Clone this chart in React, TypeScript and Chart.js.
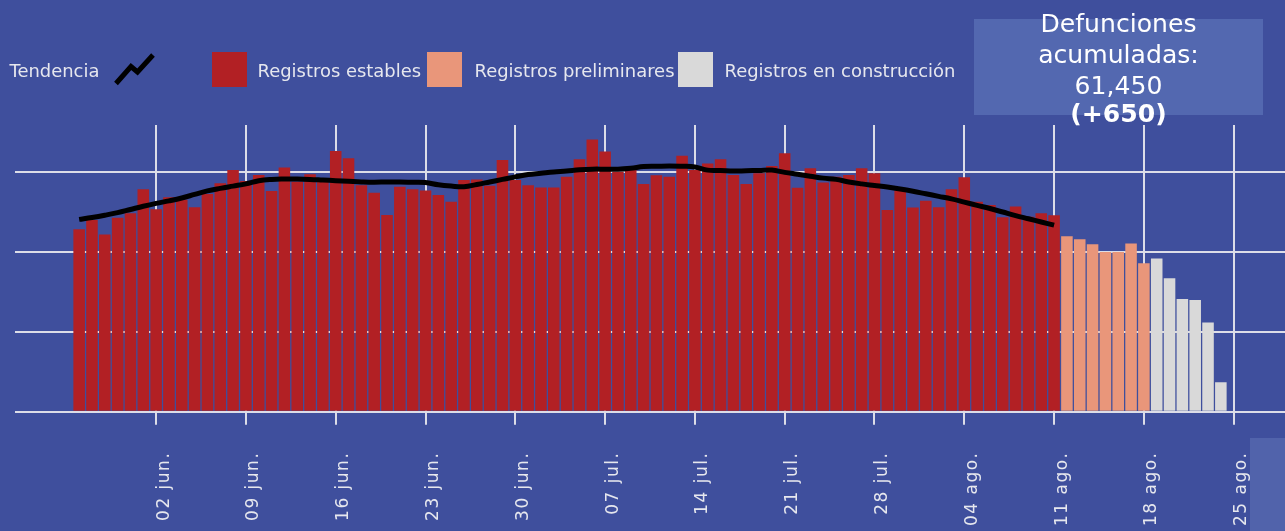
import React, { useEffect, useRef } from 'react';
import { Chart, registerables } from 'chart.js';

Chart.register(...registerables);

// ---------- data ----------
const CATEGORIES = [
  '22 may.', '23 may.', '24 may.', '25 may.', '26 may.', '27 may.', '28 may.', '29 may.', '30 may.', '31 may.',
  '01 jun.', '02 jun.', '03 jun.', '04 jun.', '05 jun.', '06 jun.', '07 jun.', '08 jun.', '09 jun.', '10 jun.',
  '11 jun.', '12 jun.', '13 jun.', '14 jun.', '15 jun.', '16 jun.', '17 jun.', '18 jun.', '19 jun.', '20 jun.',
  '21 jun.', '22 jun.', '23 jun.', '24 jun.', '25 jun.', '26 jun.', '27 jun.', '28 jun.', '29 jun.', '30 jun.',
  '01 jul.', '02 jul.', '03 jul.', '04 jul.', '05 jul.', '06 jul.', '07 jul.', '08 jul.', '09 jul.', '10 jul.',
  '11 jul.', '12 jul.', '13 jul.', '14 jul.', '15 jul.', '16 jul.', '17 jul.', '18 jul.', '19 jul.', '20 jul.',
  '21 jul.', '22 jul.', '23 jul.', '24 jul.', '25 jul.', '26 jul.', '27 jul.', '28 jul.', '29 jul.', '30 jul.',
  '31 jul.', '01 ago.', '02 ago.', '03 ago.', '04 ago.', '05 ago.', '06 ago.', '07 ago.', '08 ago.', '09 ago.',
  '10 ago.', '11 ago.', '12 ago.', '13 ago.', '14 ago.', '15 ago.', '16 ago.', '17 ago.', '18 ago.', '19 ago.',
  '20 ago.', '21 ago.', '22 ago.', '23 ago.', '24 ago.', '25 ago.', '26 ago.', '27 ago.', '28 ago.', '29 ago.',
];

const TICK_LABELS = [
  '02 jun.', '09 jun.', '16 jun.', '23 jun.', '30 jun.', '07 jul.', '14 jul.',
  '21 jul.', '28 jul.', '04 ago.', '11 ago.', '18 ago.', '25 ago.',
];

const STABLE_START = '27 may.';
const STABLE = [
  570, 599, 554, 606, 620, 695, 633, 670, 662, 639,
  680, 714, 755, 721, 740, 690, 763, 719, 742, 719,
  815, 792, 708, 684, 615, 703, 695, 691, 677, 656,
  724, 726, 706, 787, 724, 708, 701, 701, 734, 789,
  851, 813, 750, 755, 712, 739, 734, 800, 755, 776,
  789, 740, 712, 745, 768, 808, 700, 761, 716, 734,
  740, 761, 745, 630, 691, 638, 659, 639, 695, 733,
  656, 646, 608, 641, 609, 620, 614,
];

const PRELIM_START = '12 ago.';
const PRELIM = [548, 539, 523, 499, 499, 526, 464];

const BUILDING_START = '19 ago.';
const BUILDING = [479, 417, 352, 349, 279, 92];

const TREND_START = '27 may.';
const TREND = [
  601, 607, 614, 622, 632, 642, 651, 659, 668, 679,
  690, 698, 705, 712, 722, 726, 727, 727, 726, 724,
  722, 720, 718, 717, 718, 718, 717, 716, 709, 705,
  703, 710, 718, 726, 734, 741, 745, 749, 752, 756,
  758, 758, 758, 761, 766, 767, 768, 767, 765, 755,
  754, 752, 753, 754, 755, 748, 742, 736, 730, 726,
  718, 712, 707, 702, 696, 689, 681, 673, 665, 655,
  645, 635, 624, 613, 603, 593, 583,
];

const GRID_VALUES = [0, 250, 500, 750];
const Y_MAX = 896;

const TOTAL_LABEL = ['Defunciones', 'acumuladas:', '61,450'];
const TOTAL_DELTA = '(+650)';

const LEGEND_TREND = 'Tendencia';
const LEGEND_STABLE = 'Registros estables';
const LEGEND_PRELIM = 'Registros preliminares';
const LEGEND_BUILDING = 'Registros en construcción';

// ---------- styles ----------
const W = 1285;
const H = 531;
const BG = '#3f4f9d';
const RED = '#b22024';
const SALMON = '#e9967a';
const GREY = '#d9d9d9';
const GRID = '#dcdde8';
const TEXT = '#e6e7ee';
const FONT = '"DejaVu Sans"';

function place(start: string, values: number[]) {
  const s = CATEGORIES.indexOf(start);
  return CATEGORIES.map((_, i) => {
    const k = i - s;
    return k >= 0 && k < values.length ? values[k] : null;
  });
}

function fitSize(ctx: CanvasRenderingContext2D, text: string, width: number, weight = 'normal') {
  ctx.font = `${weight} 20px ${FONT}`;
  const w = ctx.measureText(text).width;
  return (20 * width) / w;
}

const spacingPlugin = {
  id: 'tickSpacing',
  beforeDraw(chart: any) {
    (chart.ctx as any).letterSpacing = '1.5px';
  },
  beforeDatasetsDraw(chart: any) {
    (chart.ctx as any).letterSpacing = '0px';
  },
};

const overlayPlugin = {
  id: 'overlay',
  afterDraw(chart: any) {
    const ctx: CanvasRenderingContext2D = chart.ctx;
    ctx.save();
    (ctx as any).letterSpacing = '0px';

    // bottom-right panel
    ctx.fillStyle = '#5163ab';
    ctx.fillRect(1250, 438, 35, 93);

    // legend
    const legSize = fitSize(ctx, LEGEND_BUILDING, 231);
    ctx.font = `${legSize}px ${FONT}`;
    ctx.fillStyle = TEXT;
    ctx.textBaseline = 'alphabetic';
    ctx.textAlign = 'left';
    const base = 77;
    ctx.fillText(LEGEND_TREND, 9.5, base);
    ctx.fillText(LEGEND_STABLE, 257.5, base);
    ctx.fillText(LEGEND_PRELIM, 474.5, base);
    ctx.fillText(LEGEND_BUILDING, 724.5, base);

    // trend icon
    ctx.strokeStyle = '#000';
    ctx.lineWidth = 5;
    ctx.lineJoin = 'miter';
    ctx.beginPath();
    ctx.moveTo(116, 83.5);
    ctx.lineTo(131, 66.5);
    ctx.lineTo(137.5, 72);
    ctx.lineTo(153, 55);
    ctx.stroke();

    // legend squares
    ctx.fillStyle = RED;
    ctx.fillRect(212, 52, 35, 35);
    ctx.fillStyle = SALMON;
    ctx.fillRect(427, 52, 35, 35);
    ctx.fillStyle = GREY;
    ctx.fillRect(678, 52, 35, 35);

    // total box
    ctx.fillStyle = '#5368b0';
    ctx.fillRect(974, 19, 289, 96);
    const boxSize = fitSize(ctx, TOTAL_LABEL[0], 156);
    ctx.fillStyle = '#ffffff';
    ctx.textAlign = 'center';
    const cx = 1118.5;
    ctx.font = `${boxSize}px ${FONT}`;
    ctx.fillText(TOTAL_LABEL[0], cx, 32);
    ctx.fillText(TOTAL_LABEL[1], cx, 63);
    ctx.fillText(TOTAL_LABEL[2], cx, 93.5);
    ctx.font = `bold ${boxSize}px ${FONT}`;
    ctx.fillText(TOTAL_DELTA, cx, 121.5);

    ctx.restore();
  },
};

export default function App() {
  const ref = useRef<HTMLCanvasElement | null>(null);

  useEffect(() => {
    if (!ref.current) return;
    const isLabeled = (i: number) => TICK_LABELS.includes(CATEGORIES[i]);
    const chart = new Chart(ref.current, {
      type: 'bar',
      data: {
        labels: CATEGORIES,
        datasets: [
          {
            type: 'line',
            label: LEGEND_TREND,
            data: place(TREND_START, TREND),
            borderColor: '#000000',
            borderWidth: 5,
            pointRadius: 0,
            tension: 0.4,
            order: 0,
          } as any,
          {
            label: LEGEND_STABLE,
            data: place(STABLE_START, STABLE),
            backgroundColor: RED,
            grouped: false,
            barPercentage: 0.9,
            categoryPercentage: 1,
            order: 1,
          },
          {
            label: LEGEND_PRELIM,
            data: place(PRELIM_START, PRELIM),
            backgroundColor: SALMON,
            grouped: false,
            barPercentage: 0.9,
            categoryPercentage: 1,
            order: 1,
          },
          {
            label: LEGEND_BUILDING,
            data: place(BUILDING_START, BUILDING),
            backgroundColor: GREY,
            grouped: false,
            barPercentage: 0.9,
            categoryPercentage: 1,
            order: 1,
          },
        ],
      },
      options: {
        animation: false,
        responsive: false,
        devicePixelRatio: 1,
        layout: { autoPadding: false, padding: { left: 15, top: 125, right: 0, bottom: 0 } },
        plugins: { legend: { display: false }, tooltip: { enabled: false } },
        scales: {
          x: {
            type: 'category',
            offset: false,
            border: { display: false },
            grid: {
              offset: false,
              color: (c: any) => (isLabeled(c.index) ? GRID : 'rgba(0,0,0,0)'),
              lineWidth: 2,
              tickLength: 13,
            },
            ticks: {
              autoSkip: false,
              minRotation: 90,
              maxRotation: 90,
              padding: 27,
              labelOffset: 8,
              color: TEXT,
              font: { family: FONT, size: 17 },
              callback: (_v: any, i: number) => (isLabeled(i) ? CATEGORIES[i] : ''),
            },
            afterFit: (s: any) => {
              s.height = H - 411.7;
              s.paddingLeft = 0;
              s.paddingRight = 0;
            },
          },
          y: {
            min: 0,
            max: Y_MAX,
            border: { display: false },
            grid: { color: GRID, lineWidth: 2, drawTicks: false },
            ticks: { display: false },
            afterBuildTicks: (s: any) => {
              s.ticks = GRID_VALUES.map((v) => ({ value: v }));
            },
            afterFit: (s: any) => {
              s.width = 0;
              s.paddingTop = 0;
              s.paddingBottom = 0;
            },
          },
        },
      } as any,
      plugins: [spacingPlugin, overlayPlugin],
    });
    return () => chart.destroy();
  }, []);

  return (
    <div style={{ position: 'fixed', left: 0, top: 0, width: W, height: H, background: BG, overflow: 'hidden' }}>
      <canvas ref={ref} width={W} height={H} style={{ display: 'block' }} />
    </div>
  );
}
